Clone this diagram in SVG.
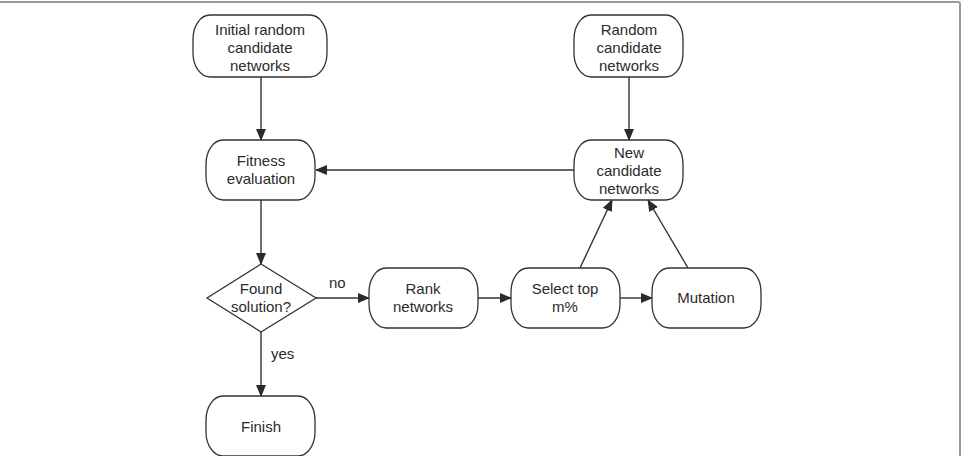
<svg xmlns="http://www.w3.org/2000/svg" width="962" height="456" viewBox="0 0 962 456">
<defs>
<marker id="ah" markerWidth="12" markerHeight="10" refX="11" refY="5" orient="auto" markerUnits="userSpaceOnUse">
<path d="M0,0 L12,5 L0,10 Z" fill="#2b2b2b"/>
</marker>
<style>
.box{fill:#fff;stroke:#333;stroke-width:1.3}
.t{font-family:"Liberation Sans",Arial,sans-serif;font-size:15px;fill:#2b2b2b;text-anchor:middle}
.l{font-family:"Liberation Sans",Arial,sans-serif;font-size:15px;fill:#2b2b2b}
.c{stroke:#333;stroke-width:1.4;fill:none;marker-end:url(#ah)}
</style>
</defs>
<rect x="-4" y="2" width="964" height="470" fill="#fff" stroke="#999" stroke-width="2" rx="2"/>
<g id="connectors">
<line class="c" x1="261" y1="77" x2="261" y2="140"/>
<line class="c" x1="629" y1="77" x2="629" y2="140"/>
<line class="c" x1="574" y1="170" x2="316" y2="170"/>
<line class="c" x1="261" y1="200" x2="261" y2="264"/>
<line class="c" x1="316" y1="298" x2="369" y2="298"/>
<line class="c" x1="478" y1="298" x2="511" y2="298"/>
<line class="c" x1="620" y1="298" x2="652" y2="298"/>
<line class="c" x1="580" y1="268" x2="612" y2="200"/>
<line class="c" x1="688" y1="268" x2="648" y2="200"/>
<line class="c" x1="261" y1="332" x2="261" y2="396"/>
<text class="l" x="329" y="288">no</text>
<text class="l" x="271" y="359">yes</text>
</g>
<g id="initial">
<rect class="box" x="193" y="15" width="134" height="62" rx="17" ry="24"/>
<text class="t" x="260" y="35">Initial random</text>
<text class="t" x="260" y="53">candidate</text>
<text class="t" x="260" y="71">networks</text>
</g>
<g id="random">
<rect class="box" x="574" y="15" width="109" height="62" rx="17" ry="24"/>
<text class="t" x="629" y="35">Random</text>
<text class="t" x="629" y="53">candidate</text>
<text class="t" x="629" y="71">networks</text>
</g>
<g id="fitness">
<rect class="box" x="206" y="140" width="109" height="60" rx="17" ry="24"/>
<text class="t" x="261" y="166">Fitness</text>
<text class="t" x="261" y="184">evaluation</text>
</g>
<g id="newcand">
<rect class="box" x="574" y="140" width="109" height="60" rx="17" ry="24"/>
<text class="t" x="629" y="158">New</text>
<text class="t" x="629" y="176">candidate</text>
<text class="t" x="629" y="194">networks</text>
</g>
<g id="found">
<polygon class="box" points="261,264 316,298 261,332 207,298"/>
<text class="t" x="261" y="294">Found</text>
<text class="t" x="261" y="312">solution?</text>
</g>
<g id="rank">
<rect class="box" x="369" y="268" width="109" height="60" rx="17" ry="24"/>
<text class="t" x="423" y="294">Rank</text>
<text class="t" x="423" y="312">networks</text>
</g>
<g id="select">
<rect class="box" x="511" y="268" width="109" height="60" rx="17" ry="24"/>
<text class="t" x="565" y="294">Select top</text>
<text class="t" x="565" y="312">m%</text>
</g>
<g id="mutation">
<rect class="box" x="652" y="268" width="109" height="60" rx="17" ry="24"/>
<text class="t" x="706" y="303">Mutation</text>
</g>
<g id="finish">
<rect class="box" x="206" y="396" width="109" height="60" rx="17" ry="24"/>
<text class="t" x="261" y="432">Finish</text>
</g>
</svg>
